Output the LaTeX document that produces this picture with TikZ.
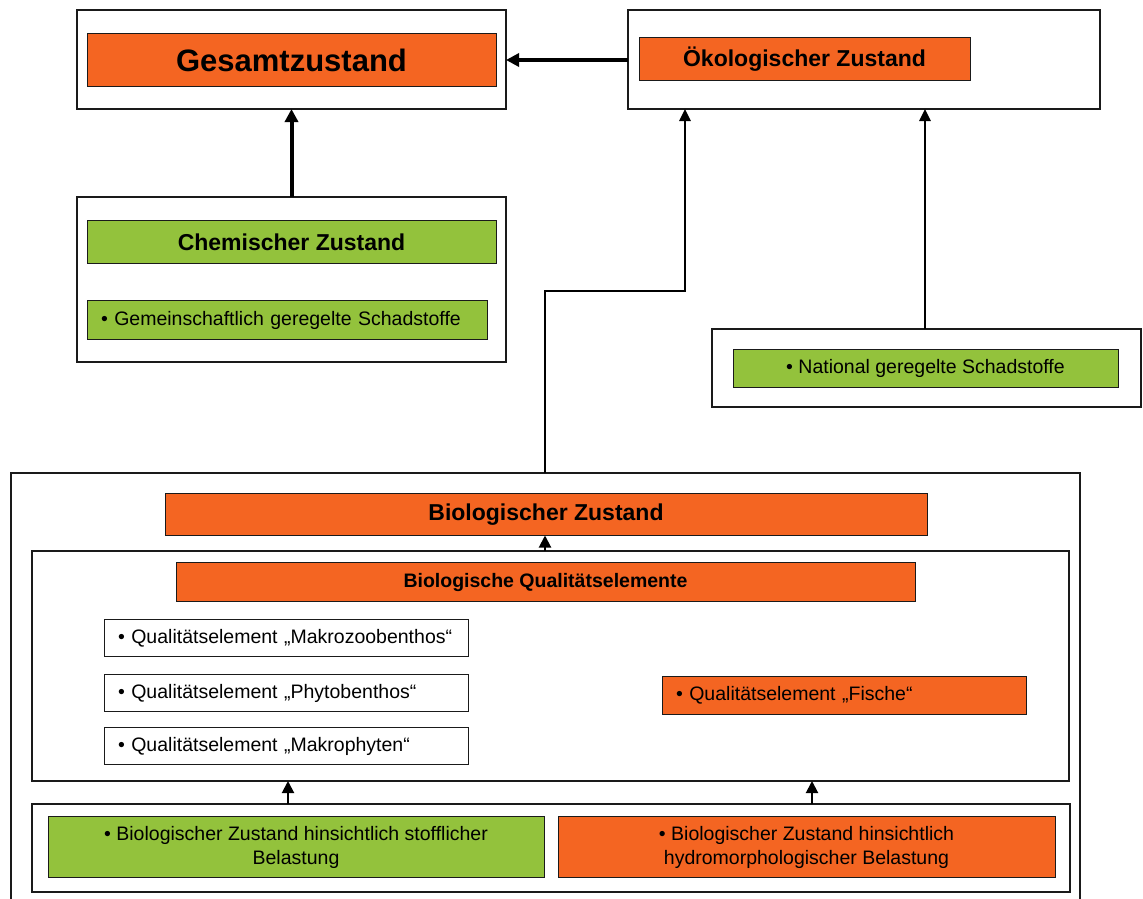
\documentclass[tikz,border=0pt]{standalone}
\usepackage{fontspec}
\setmainfont{Liberation Sans}
\usetikzlibrary{arrows.meta}
\definecolor{wrrdorange}{HTML}{F46522}
\definecolor{wrrdgreen}{HTML}{93C23C}
\definecolor{frame}{HTML}{1A1A1A}
\tikzset{
  panel/.style={draw=frame, line width=1.2pt, fill=white, inner sep=0pt, outer sep=0pt},
  obox/.style={draw=frame, line width=1pt, fill=wrrdorange, inner sep=0pt, outer sep=0pt, align=center},
  gbox/.style={draw=frame, line width=1pt, fill=wrrdgreen, inner sep=0pt, outer sep=0pt, align=center},
  wbox/.style={draw=frame, line width=1pt, fill=white, inner sep=0pt, outer sep=0pt},
  % left-aligned item text with a fixed padding
  leftitem/.style={inner xsep=14pt, inner ysep=0pt, text width=#1, align=left},
  headtxt/.style={font=\fontsize{23}{27}\selectfont\bfseries},
  itemtxt/.style={font=\fontsize{19.5}{24}\selectfont},
  bigarr/.style={line width=4pt, -{Triangle[length=13pt,width=13pt]}},
  midarr/.style={line width=2.6pt, -{Triangle[length=12pt,width=11pt]}},
  smallarr/.style={line width=2pt, -{Triangle[length=12pt,width=12pt]}},
}
\begin{document}
\begin{tikzpicture}[x=1pt,y=-1pt]
\clip (0,0) rectangle (1143,899);
\fill[white] (0,0) rectangle (1143,899);

% top row: overall and ecological status
\node[panel, minimum width=429pt, minimum height=99pt] (gesout) at (291.5,59.5) {};
\node[obox, minimum width=409pt, minimum height=53pt,
      font=\fontsize{31}{36}\selectfont\bfseries] (ges) at (291.5,60) {Gesamtzustand};
\node[panel, minimum width=472pt, minimum height=99pt] (oekout) at (864,59.5) {};
\node[obox, minimum width=331pt, minimum height=42pt, headtxt] (oek) at (804.5,59) {Ökologischer Zustand};

% chemical status
\node[panel, minimum width=429pt, minimum height=165pt] (chemout) at (291.5,279.5) {};
\node[gbox, minimum width=409pt, minimum height=43pt, headtxt] (chem) at (291.5,242) {Chemischer Zustand};
\node[gbox, leftitem=372pt, minimum height=39pt, itemtxt] (gem) at (287,320) {\textbullet\ Gemeinschaftlich geregelte Schadstoffe};

% nationally regulated pollutants
\node[panel, minimum width=429pt, minimum height=78pt] (natout) at (926.5,368) {};
\node[gbox, minimum width=385pt, minimum height=38pt, itemtxt] (nat) at (925.5,368.5) {\textbullet\ National geregelte Schadstoffe};

% biological status (frame runs past the lower edge)
\node[panel, minimum width=1069pt, minimum height=460pt] (bioout) at (545.5,703) {};
\node[obox, minimum width=762pt, minimum height=42pt, headtxt] (bio) at (546,514.5) {Biologischer Zustand};
\node[panel, minimum width=1037pt, minimum height=230pt] (qeout) at (550.5,666) {};
\node[obox, minimum width=739pt, minimum height=39pt,
      font=\fontsize{19.5}{24}\selectfont\bfseries] (qe) at (545.5,582) {Biologische Qualitätselemente};
\node[wbox, leftitem=336pt, minimum height=37pt, itemtxt] (mzb) at (286,638) {\textbullet\ Qualitätselement „Makrozoobenthos“};
\node[wbox, leftitem=336pt, minimum height=37pt, itemtxt] (pb) at (286,693) {\textbullet\ Qualitätselement „Phytobenthos“};
\node[wbox, leftitem=336pt, minimum height=37pt, itemtxt] (mp) at (286,746) {\textbullet\ Qualitätselement „Makrophyten“};
\node[obox, leftitem=336pt, minimum height=38pt, itemtxt] (fi) at (844,695.5) {\textbullet\ Qualitätselement „Fische“};

% pressure-related biological status
\node[panel, line width=2.6pt, minimum width=1038pt, minimum height=88pt] (presout) at (551,848) {};
\node[gbox, minimum width=496pt, minimum height=61pt, itemtxt] (stoff) at (296,847) {\textbullet\ Biologischer Zustand hinsichtlich stofflicher\\Belastung};
\node[obox, minimum width=497pt, minimum height=61pt, itemtxt] (hymo) at (806.5,847) {\textbullet\ Biologischer Zustand hinsichtlich\\hydromorphologischer Belastung};

% connectors
\draw[bigarr] (oekout.west |- ges) -- (gesout.east |- ges);
\draw[bigarr] (chemout.north) -- (gesout.south);
\coordinate (natx) at (925,0);
\draw[midarr] (natx |- natout.north) -- (natx |- oekout.south);
\coordinate (bend1) at (545,291);
\coordinate (bend2) at (685,291);
\draw[midarr] (bend1 |- bioout.north) -- (bend1) -- (bend2) -- (bend2 |- oekout.south);
\coordinate (qex) at (545,0);
\draw[smallarr] (qex |- qeout.north) -- (qex |- bio.south);
\coordinate (lx) at (288,0);
\coordinate (rx) at (812,0);
\draw[smallarr] (lx |- presout.north) -- (lx |- qeout.south);
\draw[smallarr] (rx |- presout.north) -- (rx |- qeout.south);
\end{tikzpicture}
\end{document}
